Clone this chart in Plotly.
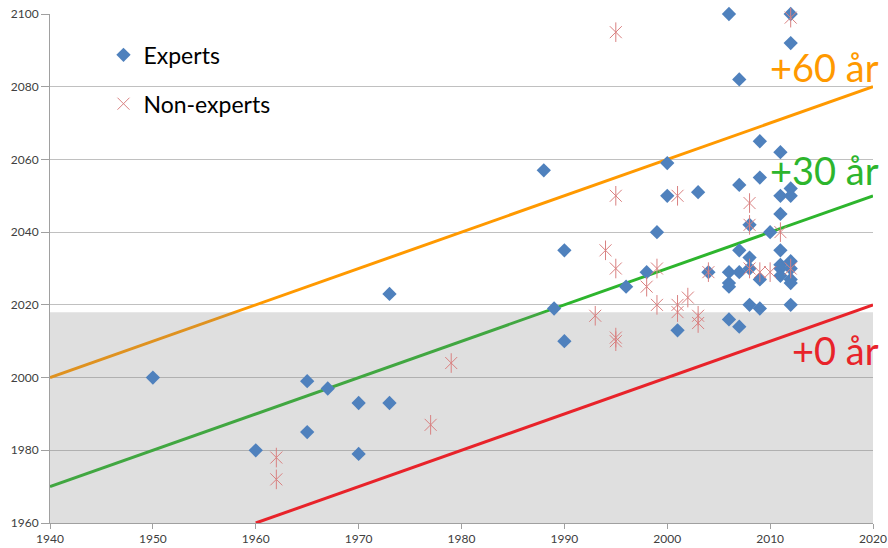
import plotly.graph_objects as go

# ---- data ----
expert_year = [1950, 1960, 1965, 1965, 1967, 1970, 1970, 1973, 1973, 1988, 1989, 1990, 1990,
               1996, 1998, 1999, 2000, 2000, 2001, 2003, 2004,
               2006, 2006, 2006, 2006, 2006,
               2007, 2007, 2007, 2007, 2007,
               2008, 2008, 2008, 2008,
               2009, 2009, 2009, 2009,
               2010,
               2011, 2011, 2011, 2011, 2011, 2011, 2011,
               2012, 2012, 2012, 2012, 2012, 2012, 2012, 2012, 2012]
expert_pred = [2000, 1980, 1999, 1985, 1997, 1993, 1979, 1993, 2023, 2057, 2019, 2035, 2010,
               2025, 2029, 2040, 2059, 2050, 2013, 2051, 2029,
               2100, 2029, 2026, 2025, 2016,
               2082, 2053, 2035, 2029, 2014,
               2042, 2033, 2030, 2020,
               2065, 2055, 2027, 2019,
               2040,
               2062, 2050, 2045, 2035, 2031, 2030, 2028,
               2100, 2092, 2052, 2050, 2032, 2030, 2027, 2026, 2020]

nonexp_year = [1962, 1962, 1977, 1979, 1993, 1994, 1995, 1995, 1995, 1995, 1995,
               1998, 1999, 1999, 2001, 2001, 2001, 2002, 2003, 2003, 2004,
               2008, 2008, 2008, 2009, 2010, 2011, 2012, 2012]
nonexp_pred = [1978, 1972, 1987, 2004, 2017, 2035, 2095, 2050, 2030, 2011, 2010,
               2025, 2030, 2020, 2050, 2020, 2018, 2022, 2017, 2015, 2029,
               2048, 2042, 2030, 2029, 2029, 2040, 2099, 2030]

line_x = [1940, 2020]
offsets = [60, 30, 0]
offset_labels = ["+60 år", "+30 år", "+0 år"]
label_y = [2085.5, 2057, 2007.5]

band_x = [1940, 2020]
band_y = [1960, 2018]

x_range = [1940, 2020]
y_range = [1960, 2100]
x_ticks = list(range(1940, 2021, 10))
y_ticks = list(range(1960, 2101, 20))

FONT = "Lato"
line_colors = ["#FF9900", "#2DB52D", "#E8232A"]
expert_color = "#4F81BD"
nonexp_color = "#D98080"

fig = go.Figure()


def add_line(off, col):
    xs = [max(line_x[0], y_range[0] - off), line_x[1]]
    ys = [x + off for x in xs]
    fig.add_trace(go.Scatter(x=xs, y=ys, mode="lines", line=dict(color=col, width=3),
                             showlegend=False, hoverinfo="skip"))


# +60 and +30 lines sit under the translucent band, +0 on top of it
add_line(offsets[0], line_colors[0])
add_line(offsets[1], line_colors[1])

fig.add_trace(go.Scatter(
    x=[band_x[0], band_x[1], band_x[1], band_x[0], band_x[0]],
    y=[band_y[0], band_y[0], band_y[1], band_y[1], band_y[0]],
    fill="toself", fillcolor="rgba(128,128,128,0.25)", mode="lines",
    line=dict(width=0), showlegend=False, hoverinfo="skip"))

add_line(offsets[2], line_colors[2])

fig.add_trace(go.Scatter(
    x=expert_year, y=expert_pred, mode="markers", name="Experts",
    legendgroup="exp", cliponaxis=False,
    marker=dict(symbol="diamond", size=11, color=expert_color, line=dict(width=0))))

fig.add_trace(go.Scatter(
    x=nonexp_year, y=nonexp_pred, mode="markers", name="Non-experts",
    legendgroup="non", cliponaxis=False,
    marker=dict(symbol="x-thin-open", size=12, color=nonexp_color,
                line=dict(width=1, color=nonexp_color))))
fig.add_trace(go.Scatter(
    x=nonexp_year, y=nonexp_pred, mode="markers", name="Non-experts",
    legendgroup="non", showlegend=False, cliponaxis=False,
    marker=dict(symbol="line-ns-open", size=14, color=nonexp_color,
                line=dict(width=1, color=nonexp_color))))

for txt, ly, col in zip(offset_labels, label_y, line_colors):
    fig.add_annotation(x=1.01, y=ly, xref="paper", yref="y", text=txt, showarrow=False,
                       xanchor="right", yanchor="middle",
                       font=dict(family=FONT, size=38, color=col))

fig.update_layout(
    width=888, height=548,
    margin=dict(l=50, r=15, t=14, b=25),
    plot_bgcolor="white", paper_bgcolor="white",
    font=dict(family=FONT, size=12, color="#404040"),
    showlegend=True,
    hovermode=False,
    legend=dict(x=0.065, y=0.962, xanchor="left", yanchor="top",
                font=dict(family=FONT, size=23, color="#000000"),
                bgcolor="rgba(0,0,0,0)", tracegroupgap=16, traceorder="grouped"),
)
fig.update_xaxes(range=x_range, tickvals=x_ticks, showgrid=False, zeroline=False,
                 automargin=False,
                 showline=True, linecolor="#A0A0A0", linewidth=1,
                 ticks="outside", ticklen=5, tickcolor="#A0A0A0",
                 tickfont=dict(family=FONT, size=12, color="#404040"))
fig.update_yaxes(range=y_range, tickvals=y_ticks, showgrid=True, gridcolor="#C0C0C0",
                 gridwidth=1, zeroline=False, automargin=False,
                 showline=True, linecolor="#A0A0A0", linewidth=1,
                 ticks="outside", ticklen=8, tickcolor="#A0A0A0",
                 tickfont=dict(family=FONT, size=12, color="#404040"))

fig.write_html("out.html",
               config={"displayModeBar": False, "staticPlot": True},
               post_script="document.body.style.margin='0';document.body.style.overflow='hidden';")
